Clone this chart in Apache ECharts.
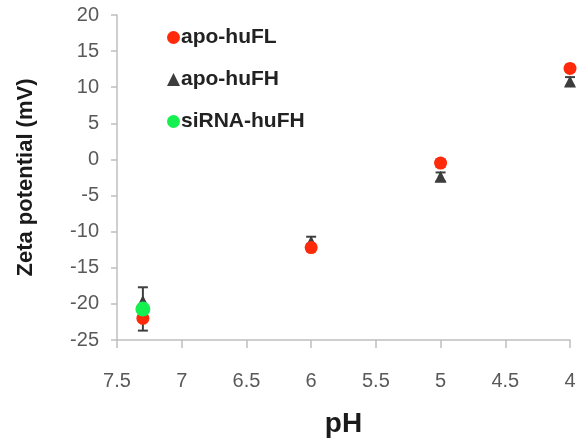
<!DOCTYPE html>
<html><head><meta charset="utf-8">
<script src="https://cdn.jsdelivr.net/npm/echarts@6/dist/echarts.min.js"></script>
<style>html,body{margin:0;padding:0;background:#fff}#c{width:579px;height:443px}</style>
</head><body><div id="c"></div>
<script>
// pH values
var phFL = [7.3, 6, 5, 4];
var valFL = [-22.0, -12.2, -0.5, 12.6];
var errFL = [1.7, 0.5, 0.5, 0.5];

var phFH = [7.3, 6, 5, 4];
var valFH = [-19.6, -11.4, -2.4, 10.8];
var errFH = [1.9, 0.7, 0.6, 0.6];

var phSi = [7.3];
var valSi = [-20.7];
var errSi = [0.5];

var yTicks = {min: -25, max: 20, step: 5};
var xTicks = {min: 4, max: 7.5, step: 0.5};

function pts(xs, ys) { return xs.map(function (x, i) { return [x, ys[i]]; }); }
function errPts(xs, ys, es) { return xs.map(function (x, i) { return [x, ys[i] - es[i], ys[i] + es[i]]; }); }

function errRender(params, api) {
  var x = api.value(0), lo = api.value(1), hi = api.value(2);
  var p1 = api.coord([x, hi]), p2 = api.coord([x, lo]);
  var w = 5;
  var st = {stroke: '#404040', lineWidth: 2};
  return {type: 'group', children: [
    {type: 'line', shape: {x1: p1[0], y1: p1[1], x2: p2[0], y2: p2[1]}, style: st},
    {type: 'line', shape: {x1: p1[0] - w, y1: p1[1], x2: p1[0] + w, y2: p1[1]}, style: st},
    {type: 'line', shape: {x1: p2[0] - w, y1: p2[1], x2: p2[0] + w, y2: p2[1]}, style: st}
  ]};
}

var chart = echarts.init(document.getElementById('c'), null, {renderer: 'canvas'});
var axisCol = '#bfbfbf';
var labCol = '#595959';
chart.setOption({
  animation: false,
  textStyle: {fontFamily: 'Liberation Sans'},
  grid: {left: 117, right: 9, top: 15, bottom: 99, containLabel: false},
  legend: {
    orient: 'vertical', left: 162, top: 22, itemGap: 21,
    itemWidth: 13, itemHeight: 13,
    data: [
      {name: 'apo-huFL', icon: 'circle'},
      {name: 'apo-huFH', icon: 'triangle'},
      {name: 'siRNA-huFH', icon: 'circle'}
    ],
    textStyle: {fontSize: 21, fontWeight: 'bold', color: '#222222', padding: [3, 0, 0, -4]}
  },
  xAxis: {
    type: 'value', inverse: true, min: xTicks.min, max: xTicks.max, interval: xTicks.step,
    splitLine: {show: false},
    axisLine: {show: true, onZero: false, lineStyle: {color: axisCol, width: 1.5}},
    axisTick: {show: true, length: 8, lineStyle: {color: axisCol, width: 1.5}},
    axisLabel: {color: labCol, fontSize: 20, margin: 31},
    name: 'pH', nameLocation: 'middle', nameGap: 70,
    nameTextStyle: {fontSize: 28, fontWeight: 'bold', color: '#1a1a1a'}
  },
  yAxis: {
    type: 'value', min: yTicks.min, max: yTicks.max, interval: yTicks.step,
    splitLine: {show: false},
    axisLine: {show: true, lineStyle: {color: axisCol, width: 1.5}},
    axisTick: {show: true, length: 6, lineStyle: {color: axisCol, width: 1.5}},
    axisLabel: {color: labCol, fontSize: 20, margin: 18},
    name: 'Zeta potential (mV)', nameLocation: 'middle', nameGap: 80, nameRotate: 90,
    nameTextStyle: {fontSize: 22, fontWeight: 'bold', color: '#1a1a1a'}
  },
  series: [
    {name: 'errFL', type: 'custom', renderItem: errRender, data: errPts(phFL, valFL, errFL), z: 1, silent: true},
    {name: 'errFH', type: 'custom', renderItem: errRender, data: errPts(phFH, valFH, errFH), z: 2, silent: true},
    {name: 'apo-huFH', type: 'scatter', symbol: 'triangle', symbolSize: 12,
     itemStyle: {color: '#3d3d3d', opacity: 1}, data: pts(phFH, valFH), z: 3},
    {name: 'apo-huFL', type: 'scatter', symbol: 'circle', symbolSize: 13,
     itemStyle: {color: '#ff2a0a', opacity: 1}, data: pts(phFL, valFL), z: 4},
    {name: 'siRNA-huFH', type: 'scatter', symbol: 'circle', symbolSize: 15,
     itemStyle: {color: '#14f050', opacity: 1}, data: pts(phSi, valSi), z: 5}
  ]
});
</script></body></html>
